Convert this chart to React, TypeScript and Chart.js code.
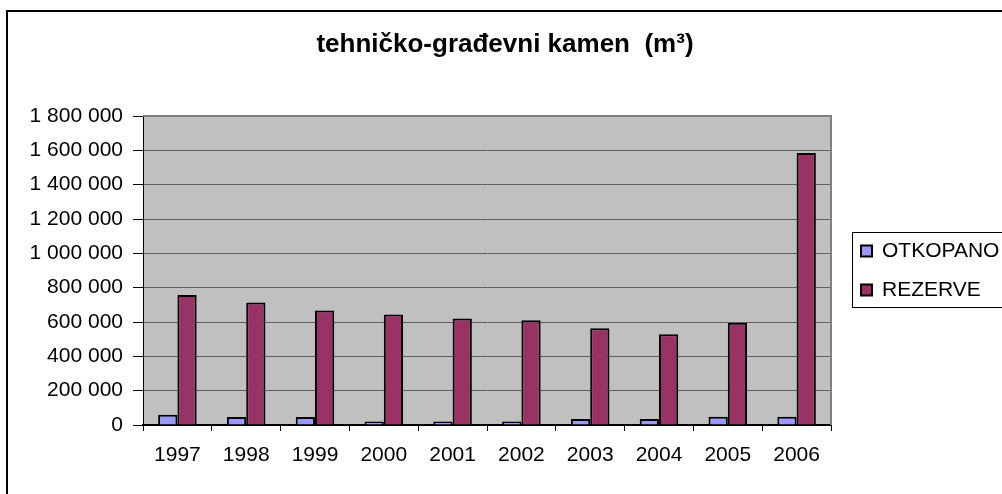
import React, { useEffect, useRef } from "react";
import { Chart, registerables } from "chart.js";

Chart.register(...registerables);

const years = ["1997", "1998", "1999", "2000", "2001", "2002", "2003", "2004", "2005", "2006"];
const otkopano = [60000, 46000, 46000, 21000, 21000, 21000, 35000, 35000, 48000, 48000];
const rezerve = [758000, 713000, 667000, 643000, 620000, 610000, 563000, 528000, 596000, 1585000];
const seriesNames = ["OTKOPANO", "REZERVE"];
const seriesColors = ["#9999FF", "#993366"];
const titleText = "tehničko-građevni kamen  (m³)";
const yMax = 1800000;
const yStep = 200000;

const FONT = '"Liberation Sans", Arial, sans-serif';

function fmt(v: number): string {
  return String(Math.round(v)).replace(/\B(?=(\d{3})+(?!\d))/g, " ");
}

export default function App() {
  const ref = useRef<HTMLCanvasElement>(null);

  useEffect(() => {
    const canvas = ref.current;
    if (!canvas) return;

    const decor = {
      id: "decor",
      beforeDraw(chart: any) {
        const { ctx, chartArea: a } = chart;
        ctx.save();
        ctx.fillStyle = "#ffffff";
        ctx.fillRect(0, 0, chart.width, chart.height);
        ctx.fillStyle = "#C0C0C0";
        ctx.fillRect(a.left, a.top, a.right - a.left, a.bottom - a.top);
        ctx.restore();
      },
      afterDraw(chart: any) {
        const { ctx, chartArea: a } = chart;
        ctx.save();
        // plot border (top & right)
        ctx.strokeStyle = "#808080";
        ctx.lineWidth = 2;
        ctx.beginPath();
        ctx.moveTo(a.left, a.top);
        ctx.lineTo(a.right, a.top);
        ctx.lineTo(a.right, a.bottom);
        ctx.stroke();

        // outer chart border
        ctx.strokeStyle = "#000000";
        ctx.lineWidth = 2;
        ctx.strokeRect(7, 11, 2000, 2000);

        // title
        ctx.fillStyle = "#000000";
        ctx.font = `bold 26px ${FONT}`;
        ctx.textAlign = "center";
        ctx.textBaseline = "alphabetic";
        ctx.fillText(titleText, 505, 52);

        // legend
        ctx.strokeStyle = "#000000";
        ctx.lineWidth = 1;
        ctx.strokeRect(852.5, 232.5, 300, 75);
        ctx.font = `21px ${FONT}`;
        ctx.textAlign = "left";
        ctx.textBaseline = "middle";
        const ys = [251, 290];
        seriesNames.forEach((name, i) => {
          const y = ys[i];
          ctx.fillStyle = seriesColors[i];
          ctx.fillRect(861, y - 5.5, 11, 11);
          ctx.lineWidth = 2;
          ctx.strokeStyle = "#000";
          ctx.strokeRect(861, y - 5.5, 11, 11);
          ctx.fillStyle = "#000";
          ctx.fillText(name, 882, y);
        });
        ctx.restore();
      },
    };

    const chart = new Chart(canvas, {
      type: "bar",
      data: {
        labels: years,
        datasets: [
          {
            label: seriesNames[0],
            data: otkopano,
            backgroundColor: seriesColors[0],
            borderColor: "#000000",
            borderWidth: 2,
            categoryPercentage: 0.56,
            barPercentage: 1,
          },
          {
            label: seriesNames[1],
            data: rezerve,
            backgroundColor: seriesColors[1],
            borderColor: "#000000",
            borderWidth: 2,
            categoryPercentage: 0.56,
            barPercentage: 1,
          },
        ],
      },
      options: {
        responsive: false,
        animation: false,
        devicePixelRatio: 1,
        layout: { padding: { left: 0, top: 116, right: 171, bottom: 0 } },
        plugins: {
          legend: { display: false },
          title: { display: false },
          tooltip: { enabled: false },
        },
        scales: {
          x: {
            afterFit(scale: any) {
              scale.height = 69;
            },
            grid: {
              drawOnChartArea: false,
              drawTicks: true,
              tickLength: 6,
              tickColor: "#000000",
              offset: true,
            },
            border: { color: "#000000", width: 2 },
            ticks: {
              color: "#000000",
              font: { family: FONT, size: 21 },
              padding: 12,
              maxRotation: 0,
            },
          },
          y: {
            min: 0,
            max: yMax,
            afterFit(scale: any) {
              scale.width = 143;
            },
            grid: {
              color: "#606060",
              lineWidth: 1,
              drawTicks: true,
              tickLength: 10,
              tickColor: "#000000",
            },
            border: { color: "#000000", width: 1 },
            ticks: {
              stepSize: yStep,
              color: "#000000",
              font: { family: FONT, size: 21 },
              padding: 10,
              callback: (v: any) => fmt(Number(v)),
            },
          },
        },
      },
      plugins: [decor],
    });

    return () => chart.destroy();
  }, []);

  return (
    <div style={{ position: "fixed", left: 0, top: 0, width: 1002, height: 494, background: "#fff" }}>
      <canvas ref={ref} width={1002} height={494} style={{ display: "block", width: 1002, height: 494 }} />
    </div>
  );
}
